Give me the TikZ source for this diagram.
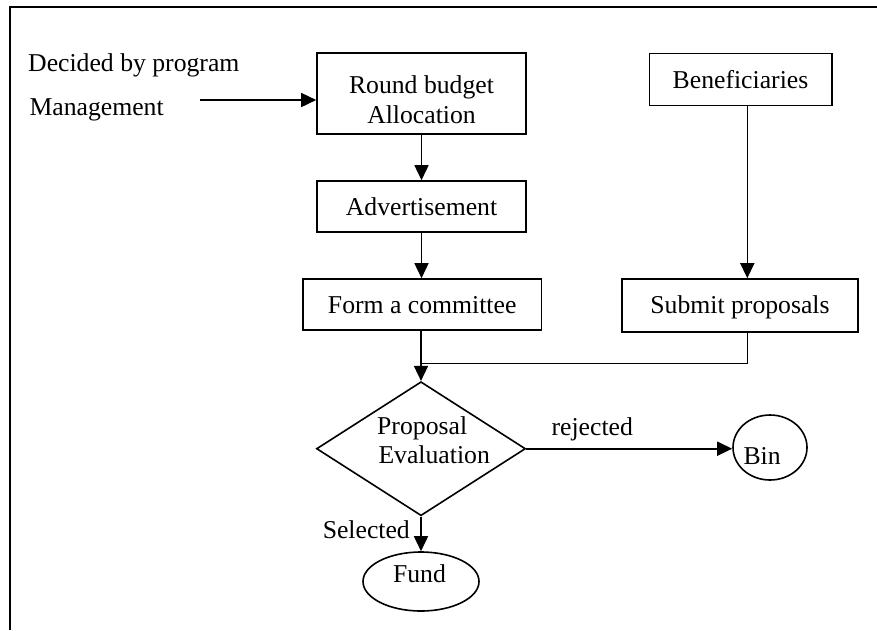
\documentclass[tikz,border=0pt]{standalone}
\usepackage{fontspec}
\setmainfont{Liberation Serif}
\usetikzlibrary{arrows.meta,shapes.geometric}
\begin{document}
\begin{tikzpicture}[x=1pt,y=-1pt,
  every node/.style={font=\fontsize{25.7}{29}\selectfont},
  boxnode/.style={draw,line width=1.6pt,inner sep=0pt,align=center},
  txt/.style={inner sep=0pt},
  arr/.style={line width=1.6pt,-{Triangle[length=15pt,width=14pt]}},
  ln/.style={line width=1.6pt}]
\useasboundingbox (0,0) rectangle (877,630);
\draw[line width=2.2pt] (10,630) -- (10,7) -- (877,7);
% boxes
\node[boxnode,minimum width=209pt,minimum height=81pt] (round) at (421.5,93.5) {};
\node[txt,anchor=base] (roundt1) at (421.5,93.3) {Round budget};
\node[txt,anchor=base] (roundt2) at (421.5,123.3) {Allocation};
\node[boxnode,minimum width=209pt,minimum height=51pt] (adv) at (421.5,206.5) {};
\node[txt,anchor=base] (advt) at (421.5,215) {Advertisement};
\node[boxnode,minimum width=238.5pt,minimum height=51pt] (comm) at (422.2,304.5) {};
\node[txt,anchor=base] (commt) at (422.2,313.3) {Form a committee};
\node[boxnode,minimum width=182.4pt,minimum height=52pt] (benef) at (740.5,79.3) {};
\node[txt,anchor=base] (beneft) at (740.5,88.3) {Beneficiaries};
\node[boxnode,minimum width=236pt,minimum height=53pt] (submit) at (740,305.5) {};
\node[txt,anchor=base] (submitt) at (740,313.3) {Submit proposals};
% decision
\node[draw,diamond,line width=1.6pt,inner sep=0pt,minimum width=209pt,minimum height=134pt] (dec) at (421,448.7) {};
\node[txt,anchor=base west] (dect1) at (377,434.3) {Proposal};
\node[txt,anchor=base west] (dect2) at (378.3,463.3) {Evaluation};
% terminals
\node[draw,ellipse,line width=1.6pt,inner sep=0pt,minimum width=74pt,minimum height=65pt] (bin) at (770,447.5) {};
\node[txt,anchor=base west] (bint) at (743.3,464) {Bin};
\node[draw,ellipse,line width=1.6pt,inner sep=0pt,minimum width=116pt,minimum height=59pt] (fund) at (421,581.5) {};
\node[txt,anchor=base] (fundt) at (419.5,582.7) {Fund};
% side texts
\node[txt,anchor=base west] (dec1) at (28,71) {Decided by program};
\node[txt,anchor=base west] (mgmt) at (29.3,115) {Management};
\node[txt,anchor=base west] (rej) at (551.4,435) {rejected};
\node[txt,anchor=base east] (sel) at (410,538.3) {Selected};
% connectors
\coordinate (m0) at (200,100);
\draw[arr] (m0) -- (m0 -| round.west);
\draw[arr] (round.south) -- (adv.north);
\draw[arr] (adv.south) -- (adv.south |- comm.north);
\coordinate (bx) at (747.3,0);
\draw[arr] (bx |- benef.south) -- (bx |- submit.north);
\coordinate (jn) at (421,363.3);
\draw[ln] (bx |- submit.south) |- (jn);
\draw[ln] (jn |- comm.south) -- (jn);
\draw[arr] (jn) -- (dec.north);
\draw[arr] (dec.east) -- (dec.east -| bin.west);
\draw[arr] (dec.south) -- (fund.north);
\end{tikzpicture}
\end{document}
